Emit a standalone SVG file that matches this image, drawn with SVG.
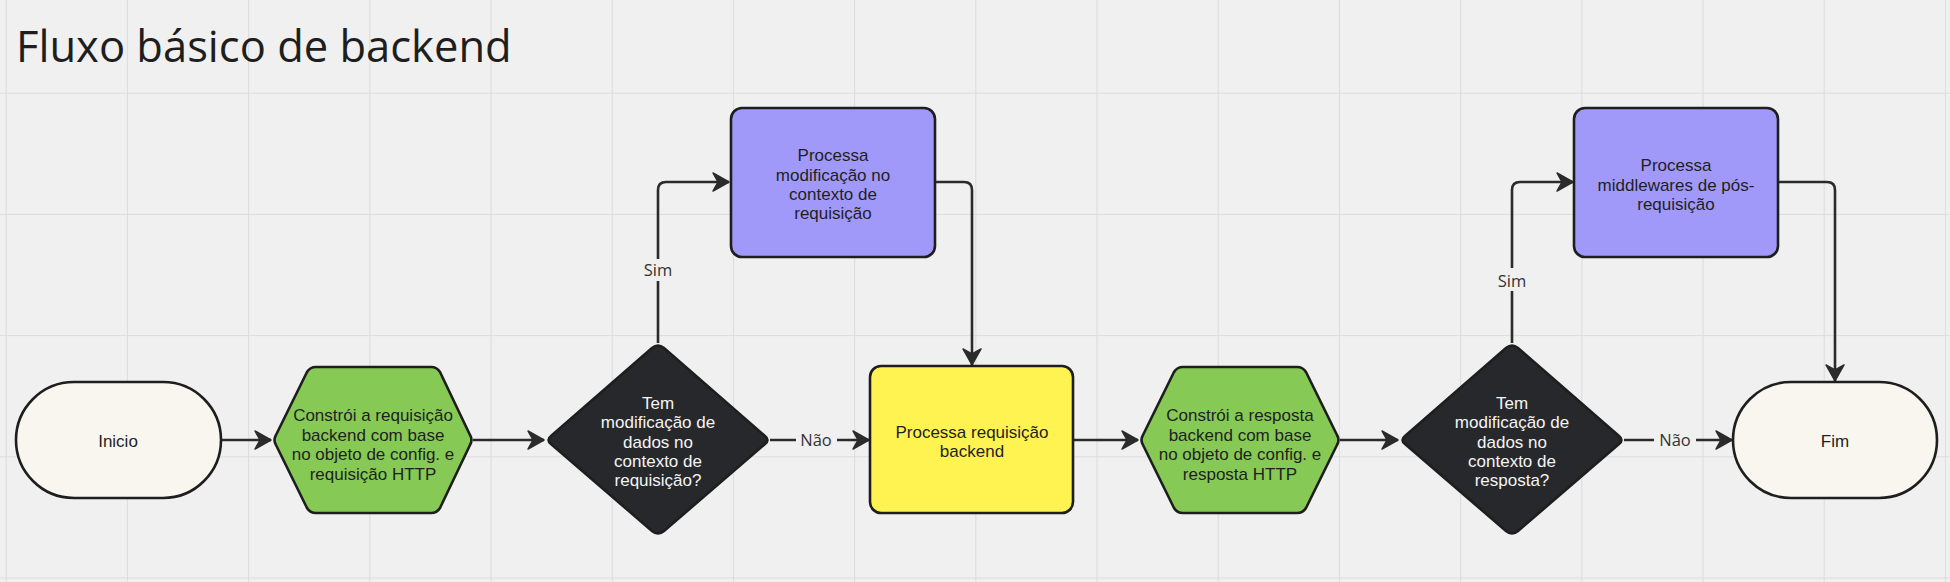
<svg xmlns="http://www.w3.org/2000/svg" width="1950" height="582" viewBox="0 0 1950 582">
  <defs>
    <pattern id="grid" x="5.7" y="-28.5" width="121.2" height="121.2" patternUnits="userSpaceOnUse">
      <path d="M0.5 0 V121.2 M0 0.5 H121.2" fill="none" stroke="#dcdcdc" stroke-width="1.2"/>
    </pattern>
    <marker id="arrow" viewBox="-18 -10 20 20" refX="0" refY="0" markerWidth="20" markerHeight="20" markerUnits="userSpaceOnUse" orient="auto">
      <path d="M0,0 L-16,-9 L-11,0 L-16,9 Z" fill="#2b2b2b" stroke="#2b2b2b" stroke-width="1.5" stroke-linejoin="round"/>
    </marker>
    <style>
      .edge { fill: none; stroke: #2b2b2b; stroke-width: 2.6; stroke-linejoin: round; }
      .node { stroke: #1e1e1e; stroke-width: 2.6; stroke-linejoin: round; }
      .term { fill: #f9f6f0; }
      .hex { fill: #86c955; }
      .dia { fill: #27282c; }
      .proc { fill: #a199fa; }
      .yel { fill: #fff352; }
      .t { font-family: "Liberation Sans", Arial, sans-serif; font-size: 17px; fill: #1f1f1f; text-anchor: middle; }
      .tw { font-family: "Liberation Sans", Arial, sans-serif; font-size: 17px; fill: #f4f4f4; text-anchor: middle; }
      .lbl { font-family: "Open Sans", "Noto Sans", sans-serif; font-size: 16.5px; fill: #333333; text-anchor: middle; }
      .title { font-family: "Open Sans", "Noto Sans", sans-serif; font-size: 43.5px; fill: #1e1e1e; }
    </style>
  </defs>

  <rect x="0" y="0" width="1950" height="582" fill="#f0f0f0"/>
  <rect x="0" y="0" width="1950" height="582" fill="url(#grid)"/>

  <text class="title" x="16" y="62">Fluxo básico de backend</text>

  <g id="connectors">
    <path class="edge" d="M221 440 H271" marker-end="url(#arrow)"/>
    <path class="edge" d="M473 440 H544" marker-end="url(#arrow)"/>
    <path class="edge" d="M770 440 H796 M837 440 H869" marker-end="url(#arrow)"/>
    <path class="edge" d="M658 343 V281 M658 259 V190 Q658 182 666 182 H729" marker-end="url(#arrow)"/>
    <path class="edge" d="M935 182 H964 Q972 182 972 190 V365" marker-end="url(#arrow)"/>
    <path class="edge" d="M1073 440 H1138" marker-end="url(#arrow)"/>
    <path class="edge" d="M1340 440 H1398" marker-end="url(#arrow)"/>
    <path class="edge" d="M1624 440 H1654 M1696 440 H1732" marker-end="url(#arrow)"/>
    <path class="edge" d="M1512 343 V291 M1512 268 V190 Q1512 182 1520 182 H1573" marker-end="url(#arrow)"/>
    <path class="edge" d="M1778 182 H1827 Q1835 182 1835 190 V381" marker-end="url(#arrow)"/>
    <text class="lbl" x="816" y="446">Não</text>
    <text class="lbl" x="658" y="276">Sim</text>
    <text class="lbl" x="1675" y="446">Não</text>
    <text class="lbl" x="1512" y="287">Sim</text>
  </g>

  <g id="inicio">
    <rect class="node term" x="16" y="382" width="205" height="116" rx="58" ry="58"/>
    <text class="t" x="118" y="447">Inicio</text>
  </g>

  <g id="constroi-requisicao">
    <path class="node hex" d="M276 445 Q273 440 276 435 L307 372 Q310 367 316 367 L431 367 Q437 367 440 372 L470 435 Q473 440 470 445 L440 508 Q437 513 431 513 L316 513 Q310 513 307 508 Z"/>
    <text class="t" x="373" y="421">Constrói a requisição</text>
    <text class="t" x="373" y="440.5">backend com base</text>
    <text class="t" x="373" y="460">no objeto de config. e</text>
    <text class="t" x="373" y="479.5">requisição HTTP</text>
  </g>

  <g id="decisao-requisicao">
    <path class="node dia" d="M551 444 Q546 440 551 436 L652 348 Q658 343 664 348 L765 436 Q770 440 765 444 L664 531 Q658 536 652 531 Z"/>
    <text class="tw" x="658" y="409">Tem</text>
    <text class="tw" x="658" y="428">modificação de</text>
    <text class="tw" x="658" y="447.5">dados no</text>
    <text class="tw" x="658" y="467">contexto de</text>
    <text class="tw" x="658" y="486">requisição?</text>
  </g>

  <g id="processa-modificacao">
    <rect class="node proc" x="731" y="108" width="204" height="149" rx="11"/>
    <text class="t" x="833" y="160.5">Processa</text>
    <text class="t" x="833" y="180.5">modificação no</text>
    <text class="t" x="833" y="200">contexto de</text>
    <text class="t" x="833" y="219">requisição</text>
  </g>

  <g id="processa-requisicao">
    <rect class="node yel" x="870" y="366" width="203" height="147" rx="11"/>
    <text class="t" x="972" y="438">Processa requisição</text>
    <text class="t" x="972" y="457">backend</text>
  </g>

  <g id="constroi-resposta">
    <path class="node hex" d="M1143 445 Q1140 440 1143 435 L1174 372 Q1177 367 1183 367 L1297 367 Q1303 367 1306 372 L1337 435 Q1340 440 1337 445 L1306 508 Q1303 513 1297 513 L1183 513 Q1177 513 1174 508 Z"/>
    <text class="t" x="1240" y="421">Constrói a resposta</text>
    <text class="t" x="1240" y="440.5">backend com base</text>
    <text class="t" x="1240" y="460">no objeto de config. e</text>
    <text class="t" x="1240" y="479.5">resposta HTTP</text>
  </g>

  <g id="decisao-resposta">
    <path class="node dia" d="M1405 444 Q1400 440 1405 436 L1506 348 Q1512 343 1518 348 L1619 436 Q1624 440 1619 444 L1518 531 Q1512 536 1506 531 Z"/>
    <text class="tw" x="1512" y="409">Tem</text>
    <text class="tw" x="1512" y="428">modificação de</text>
    <text class="tw" x="1512" y="447.5">dados no</text>
    <text class="tw" x="1512" y="467">contexto de</text>
    <text class="tw" x="1512" y="486">resposta?</text>
  </g>

  <g id="processa-middlewares">
    <rect class="node proc" x="1574" y="108" width="204" height="149" rx="11"/>
    <text class="t" x="1676" y="171">Processa</text>
    <text class="t" x="1676" y="190.5">middlewares de pós-</text>
    <text class="t" x="1676" y="210">requisição</text>
  </g>

  <g id="fim">
    <rect class="node term" x="1733" y="382" width="204" height="116" rx="58" ry="58"/>
    <text class="t" x="1835" y="447">Fim</text>
  </g>
</svg>
